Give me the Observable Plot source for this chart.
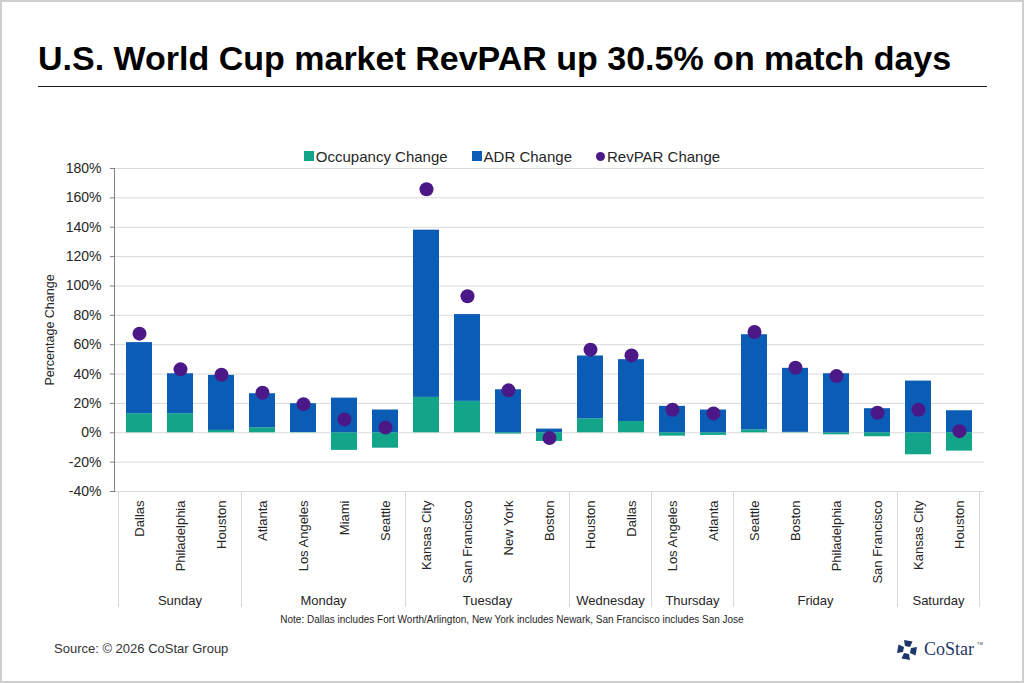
<!DOCTYPE html>
<html>
<head>
<meta charset="utf-8">
<script src="https://cdn.jsdelivr.net/npm/d3@7"></script>
<script src="https://cdn.jsdelivr.net/npm/@observablehq/plot@0.6"></script>
<style>
  html, body { margin: 0; padding: 0; background: #fff; }
  #page {
    position: relative; width: 1024px; height: 683px; box-sizing: border-box;
    border: 2px solid #cfcfcf; background: #fff; overflow: hidden;
    font-family: "Liberation Sans", Arial, sans-serif; color: #1a1a1a;
  }
  #title {
    position: absolute; left: 36px; top: 36px; margin: 0;
    font-size: 34px; font-weight: bold; color: #000; white-space: nowrap; line-height: 40px;
  }
  #rule { position: absolute; left: 36px; top: 84px; width: 949px; height: 0; border-top: 1.5px solid #1a1a1a; }
  #legend {
    position: absolute; left: 0; width: 1020px; top: 144px; height: 20px;
    display: flex; justify-content: center; gap: 24px; font-size: 15px; color: #262626;
  }
  #legend .item { display: flex; align-items: center; gap: 2px; }
  #legend .sw { width: 10px; height: 10px; display: inline-block; }
  #legend .dotsw { width: 9px; height: 9px; border-radius: 50%; display: inline-block; }
  #chart { position: absolute; left: -2px; top: 126px; width: 1024px; }
  #chart svg { max-width: none; }
  #note { position: absolute; left: 0; width: 1020px; top: 612px; text-align: center; font-size: 10px; color: #262626; }
  #source { position: absolute; left: 52px; top: 639px; font-size: 13px; color: #333; }
  #logo { position: absolute; left: 892px; top: 632px; }
  svg g[aria-label="y-axis label"] text { font-size: 12.5px; }
</style>
</head>
<body>
<div id="page">
  <div id="title">U.S. World Cup market RevPAR up 30.5% on match days</div>
  <div id="rule"></div>
  <div id="legend"></div>
  <div id="chart"></div>
  <div id="note">Note: Dallas includes Fort Worth/Arlington, New York includes Newark, San Francisco includes San Jose</div>
  <div id="source">Source: © 2026 CoStar Group</div>
  <div id="logo"></div>
</div>
<script>
// Match days and host markets, in chart order
const days = ["Sunday","Sunday","Sunday","Monday","Monday","Monday","Monday","Tuesday","Tuesday","Tuesday","Tuesday",
  "Wednesday","Wednesday","Thursday","Thursday","Friday","Friday","Friday","Friday","Saturday","Saturday"];
const cities = ["Dallas","Philadelphia","Houston","Atlanta","Los Angeles","Miami","Seattle","Kansas City","San Francisco","New York","Boston",
  "Houston","Dallas","Los Angeles","Atlanta","Seattle","Boston","Philadelphia","San Francisco","Kansas City","Houston"];

// Percentage changes on match days
const occupancy = [13.0, 13.0, 1.6, 3.4, 0.2, -12.0, -10.5, 24.1, 21.4, -0.9, -5.9, 9.5, 7.7, -2.3, -1.8, 2.0, 0.3, -1.4, -2.7, -15.0, -12.5];
const adr       = [48.4, 27.2, 37.5, 23.2, 19.6, 23.6, 15.5, 113.9, 59.1, 29.3, 2.5, 42.8, 42.1, 18.0, 15.5, 64.8, 43.6, 40.2, 16.4, 35.2, 15.0];
const revpar    = [67.5, 43.2, 39.5, 27.3, 19.5, 9.1, 3.6, 165.9, 93.0, 28.9, -3.6, 56.6, 52.7, 15.7, 13.2, 68.6, 44.3, 38.6, 13.6, 15.7, 1.1];

const yTicks = [-40, -20, 0, 20, 40, 60, 80, 100, 120, 140, 160, 180];
const seriesNames = ["Occupancy Change", "ADR Change", "RevPAR Change"];
const colors = {occ: "#12a58a", adr: "#0b5cb4", revpar: "#4b1888"};

const idx = d3.range(cities.length);
const stacked = idx.flatMap(i => [
  {i, series: seriesNames[0], value: occupancy[i]},
  {i, series: seriesNames[1], value: adr[i]}
]);
const points = idx.map(i => ({i, value: revpar[i]}));

// Legend
const legend = d3.select("#legend");
[[seriesNames[0], colors.occ, "sw"], [seriesNames[1], colors.adr, "sw"], [seriesNames[2], colors.revpar, "dotsw"]]
  .forEach(([name, c, cls]) => {
    const it = legend.append("div").attr("class", "item");
    it.append("span").attr("class", cls).style("background", c);
    it.append("span").text(name);
  });

const plot = Plot.plot({
  width: 1024,
  height: 488,
  marginTop: 40,
  marginBottom: 125,
  marginLeft: 114,
  marginRight: 40,
  style: {fontFamily: "Liberation Sans, Arial, sans-serif", fontSize: "14px", color: "#262626", background: "transparent", overflow: "visible"},
  x: {domain: idx, paddingInner: 0.36, paddingOuter: 0.18, label: null},
  y: {domain: [-40, 180], label: null},
  color: {domain: seriesNames.slice(0, 2), range: [colors.occ, colors.adr]},
  marks: [
    Plot.gridY(yTicks, {stroke: "#d9d9d9", strokeOpacity: 1, strokeWidth: 1}),
    Plot.barY(stacked, {x: "i", y: "value", fill: "series"}),
    Plot.dot(points, {x: "i", y: "value", r: 7, fill: colors.revpar, stroke: "none"}),
    Plot.frame({anchor: "left", stroke: "#7f7f7f"}),
    Plot.axisY(yTicks, {tickFormat: d => d + "%", tickSize: 4, tickPadding: 9, stroke: "#7f7f7f",
      label: "Percentage Change", labelAnchor: "center", labelArrow: "none", labelOffset: 69}),
    Plot.axisX({tickRotate: -90, tickSize: 0, tickPadding: 9, fontSize: 13, tickFormat: i => cities[i], label: null})
  ]
});
document.getElementById("chart").append(plot);

// Day groups below the city labels: separators and centred day names
const xs = plot.scale("x");
const half = (xs.step - xs.bandwidth) / 2;
const y0 = plot.scale("y").apply(-40);
const groups = d3.groups(idx, i => days[i]);
const svg = d3.select(plot);
const g = svg.append("g").attr("aria-label", "day groups");
const edges = groups.map(([, is]) => xs.apply(is[0]) - half);
edges.push(xs.apply(idx[idx.length - 1]) + xs.bandwidth + half);
g.selectAll("line").data(edges).join("line")
  .attr("x1", d => d).attr("x2", d => d)
  .attr("y1", y0).attr("y2", y0 + 116)
  .attr("stroke", "#d9d9d9");
g.selectAll("text").data(groups).join("text")
  .attr("x", ([, is]) => (xs.apply(is[0]) + xs.apply(is[is.length - 1]) + xs.bandwidth) / 2)
  .attr("y", y0 + 114)
  .attr("text-anchor", "middle")
  .attr("font-size", 13)
  .attr("fill", "#262626")
  .text(([d]) => d);

// Company mark
const logo = d3.select("#logo").append("svg").attr("width", 95).attr("height", 32);
const icon = logo.append("g").attr("transform", "translate(13,16)");
[0, 90, 180, 270].forEach(a => {
  icon.append("path")
    .attr("d", "M-3,-10 L5.5,-8.5 L3,-3 L-2,-4 Z")
    .attr("transform", `rotate(${a})`)
    .attr("fill", "#1d3868");
});
logo.append("text").attr("x", 30).attr("y", 21)
  .attr("font-family", "Liberation Serif, DejaVu Serif, serif").attr("font-size", 18)
  .attr("fill", "#1d3868").text("CoStar");
logo.append("text").attr("x", 83).attr("y", 11)
  .attr("font-family", "Liberation Sans, Arial, sans-serif").attr("font-size", 4)
  .attr("fill", "#1d3868").text("TM");
</script>
</body>
</html>
